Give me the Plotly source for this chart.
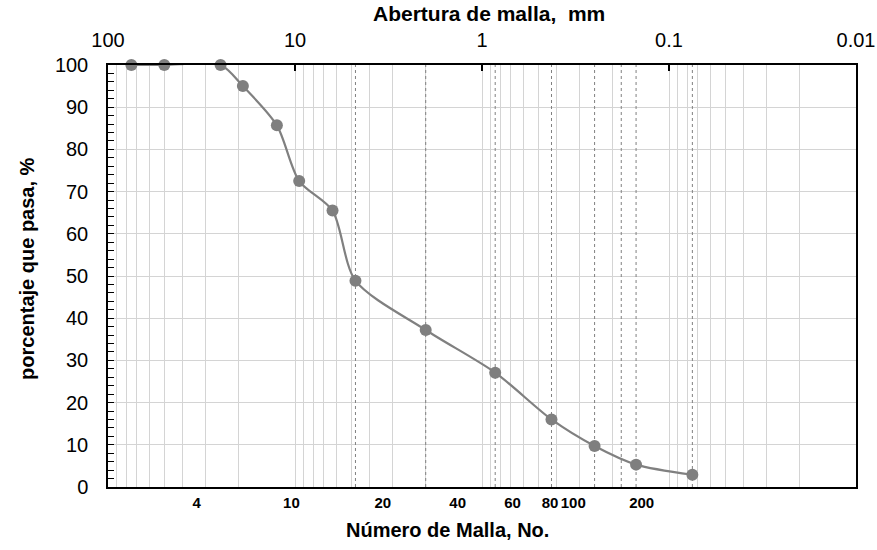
import plotly.graph_objects as go

# Grain-size distribution (sieve analysis)
sieve_mm = [75, 50, 25, 19, 12.5, 9.5, 6.3, 4.75, 2.0, 0.85, 0.425, 0.25, 0.15, 0.075]
passing_pct = [100, 100, 100, 95, 85.7, 72.5, 65.5, 48.9, 37.2, 27.1, 16.0, 9.7, 5.3, 2.9]

# Reference lines at the standard sieve openings
ref_sieves_mm = [4.75, 2.0, 0.85, 0.425, 0.25, 0.18, 0.15, 0.075]

# Bottom axis labels (sieve numbers) and where they sit on the mm scale
sieve_no_labels = ["4", "10", "20", "40", "60", "80", "100", "200"]
sieve_no_pos_mm = [33.6, 10.45, 3.39, 1.349, 0.686, 0.433, 0.325, 0.140]

# Top axis decades
decade_vals = [100, 10, 1, 0.1, 0.01]
decade_text = ["100", "10", "1", "0.1", "0.01"]

FONT = "Liberation Sans, Arial, sans-serif"
GRID = "#d4d4d4"

# minor log grid (2..9 within each decade)
minor_vals = []
for base in [0.01, 0.1, 1, 10]:
    for k in range(2, 10):
        minor_vals.append(round(base * k, 6))

fig = go.Figure()

# dashed sieve reference lines (on the top mm axis)
dx, dy = [], []
for s in ref_sieves_mm:
    dx += [s, s, None]
    dy += [0, 100, None]
fig.add_trace(go.Scatter(
    x=dx, y=dy, mode="lines", xaxis="x2", yaxis="y",
    line=dict(color="#808080", width=1, dash="dot"),
    hoverinfo="skip", showlegend=False,
))

# grading curve (bottom axis shares the same mm log scale)
fig.add_trace(go.Scatter(
    x=sieve_mm, y=passing_pct, mode="lines+markers", xaxis="x", yaxis="y",
    line=dict(color="#808080", width=2.2, shape="spline", smoothing=0.8),
    marker=dict(color="#7f7f7f", size=12),
    cliponaxis=False, showlegend=False,
))

fig.update_layout(
    width=877, height=550,
    margin=dict(l=108, r=21, t=65, b=63, autoexpand=False),
    paper_bgcolor="white", plot_bgcolor="white",
    font=dict(family=FONT, color="black"),
    showlegend=False,
    xaxis=dict(
        type="log", range=[2, -2], automargin=False,
        tickmode="array", tickvals=sieve_no_pos_mm, ticktext=sieve_no_labels,
        tickfont=dict(size=15, family=FONT, weight="bold"),
        showgrid=False, ticks="", showline=True, linecolor="black", linewidth=1.5,
        zeroline=False, ticklabelstandoff=1,
    ),
    xaxis2=dict(
        type="log", range=[2, -2], overlaying="x", side="top", anchor="y",
        automargin=False,
        tickmode="array", tickvals=decade_vals, ticktext=decade_text,
        tickfont=dict(size=20, family=FONT),
        showgrid=True, gridcolor=GRID, gridwidth=1.4,
        ticks="inside", ticklen=6, tickcolor="black", tickwidth=1.5,
        minor=dict(tickmode="array", tickvals=minor_vals, showgrid=True,
                   gridcolor=GRID, gridwidth=1.4, ticks=""),
        showline=True, linecolor="black", linewidth=1.5,
        zeroline=False, ticklabelstandoff=8,
    ),
    yaxis=dict(
        range=[0, 100], dtick=10, automargin=False,
        tickfont=dict(size=20, family=FONT),
        showgrid=True, gridcolor=GRID, gridwidth=1.4,
        ticks="inside", ticklen=6, tickcolor="black", tickwidth=1.2,
        minor=dict(dtick=2, ticks="inside", ticklen=6, tickcolor="black", tickwidth=1.2),
        showline=True, linecolor="black", linewidth=1.5, mirror=True,
        zeroline=False, ticklabelstandoff=14,
    ),
    annotations=[
        dict(text="<b>Abertura de malla,  mm</b>", xref="paper", yref="paper",
             x=0.51, y=1.122, showarrow=False, font=dict(size=21, family=FONT),
             xanchor="center", yanchor="middle"),
        dict(text="<b>Número de Malla, No.</b>", xref="paper", yref="paper",
             x=0.454, y=-0.103, showarrow=False, font=dict(size=20, family=FONT),
             xanchor="center", yanchor="middle"),
        dict(text="<b>porcentaje que pasa, %</b>", xref="paper", yref="paper",
             x=-0.1076, y=0.518, showarrow=False, textangle=-90,
             font=dict(size=20, family=FONT), xanchor="center", yanchor="middle"),
    ],
)

fig.write_html("out.html")
